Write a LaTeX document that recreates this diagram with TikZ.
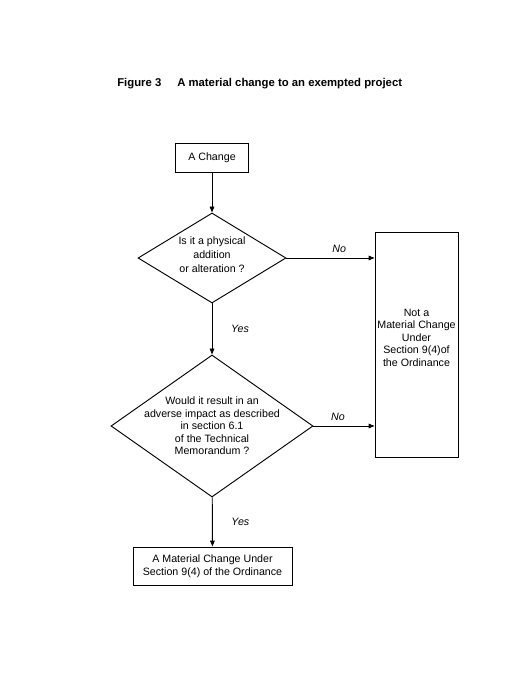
\documentclass[tikz,border=0pt]{standalone}
\usepackage{fontspec}
\setmainfont{Liberation Sans}
\usetikzlibrary{
  arrows.meta,
  positioning,
  shapes.geometric
}

\begin{document}
\begin{tikzpicture}[
  x=0.75pt, y=-0.75pt,
  every node/.style={font=\fontsize{8}{9.4}\selectfont},
  box/.style={draw, line width=0.7pt, align=center, inner sep=0pt},
  decision/.style={draw, diamond, line width=0.7pt, inner sep=0pt},
  qtext/.style={align=center, font=\fontsize{8}{9.4}\selectfont},
  answer/.style={inner sep=1pt, font=\fontsize{8}{9.4}\selectfont\itshape},
  heading/.style={anchor=base west, inner sep=0pt, font=\fontsize{8.5}{10}\selectfont\bfseries},
  flow/.style={-{Triangle[length=4.5pt,width=3.5pt]}, line width=0.7pt}
]
\useasboundingbox (0,0) rectangle (511,680);

\node[heading] (fig) at (117,87) {Figure 3};
\node[heading] (title) at (177,87) {A material change to an exempted project};

\node[box, minimum width=54.75pt, minimum height=21.75pt] (change) at (212,158) {A Change};
\node[decision, minimum width=111pt, minimum height=67.5pt,
  label={[qtext, font=\fontsize{8}{10.5}\selectfont, yshift=2.5pt]center:Is it a physical\\addition\\or alteration ?}] (q1) at (212,258) {};
\node[decision, minimum width=151.5pt, minimum height=106.5pt,
  label={[qtext]center:Would it result in an\\adverse impact as described\\in section 6.1\\of the Technical\\Memorandum ?}] (q2) at (212,426) {};
\node[box, minimum width=62.25pt, minimum height=168.75pt,
  label={[qtext, yshift=5pt]center:Not a\\Material Change\\Under\\Section 9(4)of\\the Ordinance}] (notmc) at (416.5,344.5) {};
\node[box, minimum width=119.25pt, minimum height=28.5pt] (mc) at (212.5,566)
  {A Material Change Under\\Section 9(4) of the Ordinance};

\draw[flow] (change) -- (q1);
\draw[flow] (q1) -- node[answer, midway, right=13pt] {Yes} (q2);
\draw[flow] (q2) -- node[answer, midway, right=13pt] {Yes} (mc);
\draw[flow] (q1.east) -- node[answer, pos=0.6, above=3pt] {No} (q1.east -| notmc.west);
\draw[flow] (q2.east) -- node[answer, pos=0.4, above=3pt] {No} (q2.east -| notmc.west);

\end{tikzpicture}
\end{document}
